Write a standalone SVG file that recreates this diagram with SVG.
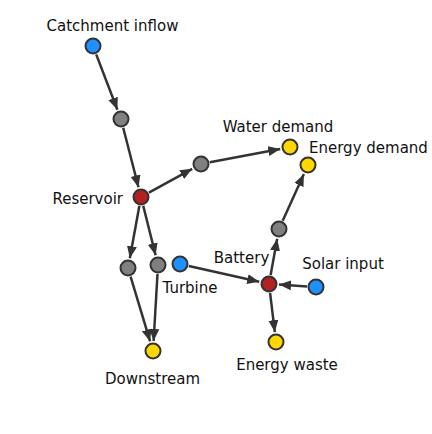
<svg xmlns="http://www.w3.org/2000/svg" width="432" height="434" viewBox="0 0 432 434">
<style>
.e{stroke:#333;stroke-width:2.5;fill:none;marker-end:url(#ah)}
.n{stroke:#333;stroke-width:2}
.src{fill:#1e90ff}.sink{fill:#ffd700}.store{fill:#b22222}.mid{fill:#808080}
text{font-family:"DejaVu Sans",sans-serif;font-size:15px;fill:#111}
</style>
<defs>
<marker id="ah" markerUnits="userSpaceOnUse" markerWidth="12" markerHeight="11" refX="12" refY="5.5" orient="auto">
<path d="M0,0.5 L12,5.5 L0,10.5 z" fill="#333"/>
</marker>
</defs>
<rect width="432" height="434" fill="#fff"/>
<g id="connectors">
<line class="e" x1="96.2" y1="54.4" x2="117.4" y2="109.7"/>
<line class="e" x1="123.2" y1="127.7" x2="138.5" y2="187.3"/>
<line class="e" x1="148.9" y1="192.7" x2="192.2" y2="168.8"/>
<line class="e" x1="209.8" y1="162.3" x2="280.2" y2="148.9"/>
<line class="e" x1="139.4" y1="205.8" x2="129.8" y2="258.2"/>
<line class="e" x1="143.2" y1="205.7" x2="155.6" y2="255.3"/>
<line class="e" x1="130.6" y1="276.6" x2="150.1" y2="341.4"/>
<line class="e" x1="157.5" y1="274" x2="153.6" y2="341"/>
<line class="e" x1="188.8" y1="266" x2="259.2" y2="281.8"/>
<line class="e" x1="307" y1="286.4" x2="279" y2="284.6"/>
<line class="e" x1="270.6" y1="275.1" x2="277.2" y2="238.8"/>
<line class="e" x1="282.7" y1="220.8" x2="303.9" y2="174.1"/>
<line class="e" x1="270.1" y1="292.9" x2="274.8" y2="332.1"/>
</g>
<g id="catchment"><circle class="n src" cx="93" cy="46" r="7.5"/><text x="112.5" y="31" text-anchor="middle">Catchment inflow</text></g>
<g id="j1"><circle class="n mid" cx="121" cy="119" r="7.5"/></g>
<g id="reservoir"><circle class="n store" cx="141" cy="197" r="7.5"/><text x="123" y="204" text-anchor="end">Reservoir</text></g>
<g id="j2"><circle class="n mid" cx="201" cy="164" r="7.5"/></g>
<g id="water-demand"><circle class="n sink" cx="290" cy="147" r="7.5"/><text x="278" y="132" text-anchor="middle">Water demand</text></g>
<g id="energy-demand"><circle class="n sink" cx="308" cy="165" r="7.5"/><text x="309" y="153">Energy demand</text></g>
<g id="j3"><circle class="n mid" cx="279" cy="229" r="7.5"/></g>
<g id="j4"><circle class="n mid" cx="128" cy="268" r="7.5"/></g>
<g id="j5"><circle class="n mid" cx="158" cy="265" r="7.5"/></g>
<g id="turbine"><circle class="n src" cx="180" cy="264" r="7.5"/><text x="190" y="293" text-anchor="middle">Turbine</text></g>
<g id="battery"><circle class="n store" cx="269" cy="284" r="7.5"/><text x="241.5" y="263" text-anchor="middle">Battery</text></g>
<g id="solar"><circle class="n src" cx="316" cy="287" r="7.5"/><text x="343" y="269" text-anchor="middle">Solar input</text></g>
<g id="downstream"><circle class="n sink" cx="153" cy="351" r="7.5"/><text x="152.5" y="384" text-anchor="middle">Downstream</text></g>
<g id="energy-waste"><circle class="n sink" cx="276" cy="342" r="7.5"/><text x="287" y="370" text-anchor="middle">Energy waste</text></g>
</svg>
